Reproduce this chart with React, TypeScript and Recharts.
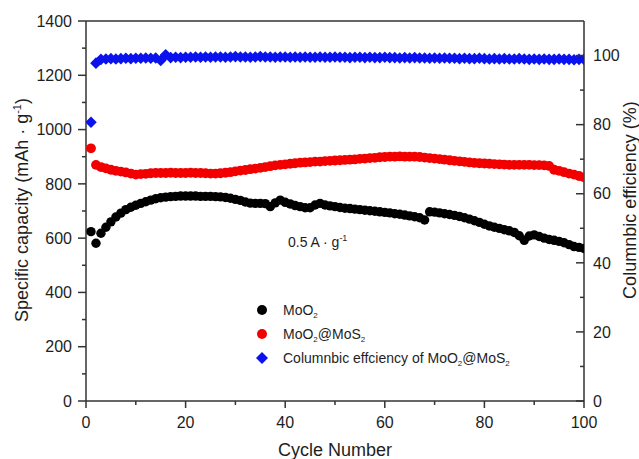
import React from "react";
import { ComposedChart, Line, XAxis, YAxis, ReferenceLine, Legend } from "recharts";

const cycles: number[] = Array.from({ length: 100 }, (_, i) => i + 1);

const moo2: number[] = [
  624, 581, 618, 640, 660, 678, 692, 705, 714, 721,
  728, 734, 740, 745, 749, 751, 753, 754, 755, 755,
  755, 755, 754, 754, 754, 753, 752, 750, 747, 743,
  739, 733, 729, 728, 728, 727, 716, 730, 740, 732,
  726, 720, 716, 712, 712, 722, 728, 722, 719, 716,
  713, 710, 709, 707, 705, 703, 701, 699, 697, 695,
  693, 690, 688, 685, 682, 679, 675, 667, 697, 696,
  693, 690, 687, 684, 680, 675, 670, 664, 658, 651,
  645, 640, 636, 631, 627, 621, 609, 592, 608, 612,
  606, 600, 595, 592, 588, 583, 576, 569, 566, 562,
];

const moo2mos2: number[] = [
  931, 870, 862, 857, 852, 848, 845, 842, 838, 834,
  836, 837, 839, 840, 840, 840, 841, 840, 840, 840,
  841, 840, 840, 839, 838, 838, 839, 841, 843, 846,
  849, 851, 854, 856, 859, 862, 865, 868, 870, 872,
  874, 876, 878, 879, 880, 882, 882, 884, 885, 886,
  887, 888, 889, 890, 892, 893, 895, 896, 898, 899,
  900, 900, 901, 900, 900, 900, 899, 897, 895, 893,
  891, 889, 887, 885, 883, 881, 879, 877, 876, 875,
  874, 873, 872, 871, 870, 870, 870, 870, 870, 869,
  869, 868, 866, 852, 848, 843, 838, 834, 829, 824,
];

const efficiency: number[] = [
  80.7, 97.8, 98.9, 99.0, 99.1, 99.0, 99.1, 99.2, 99.1, 99.2,
  99.2, 99.3, 99.2, 99.3, 98.6, 100.2, 99.4, 99.5, 99.4, 99.5,
  99.5, 99.6, 99.5, 99.6, 99.5, 99.6, 99.6, 99.5, 99.6, 99.7,
  99.6, 99.6, 99.5, 99.6, 99.7, 99.6, 99.6, 99.5, 99.6, 99.6,
  99.5, 99.6, 99.5, 99.6, 99.5, 99.5, 99.6, 99.5, 99.5, 99.6,
  99.5, 99.5, 99.4, 99.5, 99.5, 99.4, 99.5, 99.4, 99.4, 99.5,
  99.4, 99.4, 99.3, 99.4, 99.3, 99.4, 99.3, 99.3, 99.2, 99.3,
  99.2, 99.3, 99.2, 99.2, 99.1, 99.2, 99.1, 99.1, 99.2, 99.1,
  99.0, 99.1, 99.0, 99.1, 99.0, 99.0, 99.1, 99.0, 98.9, 99.0,
  98.9, 99.0, 98.9, 98.9, 99.0, 98.9, 98.9, 98.8, 98.9, 98.9,
];

const xTicks: number[] = [0, 10, 20, 30, 40, 50, 60, 70, 80, 90, 100];
const leftTicks: number[] = [0, 100, 200, 300, 400, 500, 600, 700, 800, 900, 1000, 1100, 1200, 1300, 1400];
const rightTicks: number[] = [0, 10, 20, 30, 40, 50, 60, 70, 80, 90, 100];

const data = cycles.map((c, i) => ({
  cycle: c,
  moo2: moo2[i],
  moo2mos2: moo2mos2[i],
  eff: efficiency[i],
}));

const FONT = "'Liberation Sans', Arial, sans-serif";
const AXIS = "#333";
const TXT = "#1e1e1e";
const BLACK = "#000000";
const RED = "#f20000";
const BLUE = "#0a12ee";

const LeftTick = (props: any) => {
  const { x, y, payload } = props;
  const v = payload.value;
  const major = v % 200 === 0;
  return (
    <g>
      <line x1={x - (major ? 8 : 4)} x2={x} y1={y} y2={y} stroke={AXIS} strokeWidth={1.5} />
      {major && (
        <text x={x - 14} y={y} dy="0.36em" textAnchor="end" fontSize={16} fill={TXT} fontFamily={FONT}>
          {v}
        </text>
      )}
    </g>
  );
};

const RightTick = (props: any) => {
  const { x, y, payload } = props;
  const v = payload.value;
  const major = v % 20 === 0;
  return (
    <g>
      <line x1={x - (major ? 8 : 4)} x2={x} y1={y} y2={y} stroke={AXIS} strokeWidth={1.5} />
      {major && (
        <text x={x + 9} y={y} dy="0.36em" textAnchor="start" fontSize={16} fill={TXT} fontFamily={FONT}>
          {v}
        </text>
      )}
    </g>
  );
};

const BottomTick = (props: any) => {
  const { x, y, payload } = props;
  const v = payload.value;
  const major = v % 20 === 0;
  return (
    <g>
      <line x1={x} x2={x} y1={y} y2={y + (major ? 7 : 4)} stroke={AXIS} strokeWidth={1.5} />
      {major && (
        <text x={x} y={y + 27} textAnchor="middle" fontSize={16} fill={TXT} fontFamily={FONT}>
          {v}
        </text>
      )}
    </g>
  );
};

const Diamond = (props: any) => {
  const { cx, cy, index } = props;
  if (cx == null || cy == null) return <g key={`dn-${index}`} />;
  const s = 5.8;
  return (
    <polygon
      key={`d-${index}`}
      points={`${cx},${cy - s} ${cx + s},${cy} ${cx},${cy + s} ${cx - s},${cy}`}
      fill={BLUE}
      stroke="none"
    />
  );
};

const LegendContent = () => {
  const row = (marker: React.ReactNode, label: React.ReactNode, key: string) => (
    <div key={key} style={{ display: "flex", alignItems: "center", height: 24 }}>
      <svg width={20} height={24} style={{ display: "block" }}>
        {marker}
      </svg>
      <span style={{ marginLeft: 11, fontSize: 14, color: TXT, fontFamily: FONT, whiteSpace: "nowrap" }}>{label}</span>
    </div>
  );
  const sub = (t: string) => (
    <sub style={{ fontSize: 8, verticalAlign: "baseline", position: "relative", top: 3 }}>{t}</sub>
  );
  return (
    <div>
      {row(<circle cx={10} cy={12} r={5} fill={BLACK} />, <>MoO{sub("2")}</>, "a")}
      {row(<circle cx={10} cy={12} r={5} fill={RED} />, <>MoO{sub("2")}@MoS{sub("2")}</>, "b")}
      {row(
        <polygon points="10,6 16,12 10,18 4,12" fill={BLUE} />,
        <>Columnbic effciency of MoO{sub("2")}@MoS{sub("2")}</>,
        "c"
      )}
    </div>
  );
};

export default function App() {
  return (
    <div style={{ position: "absolute", left: 0, top: 0, width: 639, height: 459, background: "#fff" }}>
      <ComposedChart
        width={639}
        height={459}
        data={data}
        margin={{ top: 21, right: 5, bottom: 8, left: 6 }}
        style={{ fontFamily: FONT }}
      >
        <XAxis
          dataKey="cycle"
          type="number"
          domain={[0, 100]}
          ticks={xTicks}
          interval={0}
          height={50}
          tickSize={0}
          tickMargin={0}
          tickLine={false}
          axisLine={{ stroke: AXIS, strokeWidth: 1.5 }}
          tick={<BottomTick />}
          allowDataOverflow
        />
        <YAxis
          yAxisId="left"
          orientation="left"
          domain={[0, 1400]}
          ticks={leftTicks}
          interval={0}
          width={80}
          tickSize={0}
          tickMargin={0}
          tickLine={false}
          axisLine={{ stroke: AXIS, strokeWidth: 1.5 }}
          tick={<LeftTick />}
          allowDataOverflow
        />
        <YAxis
          yAxisId="right"
          orientation="right"
          domain={[0, 110]}
          ticks={rightTicks}
          interval={0}
          width={50}
          tickSize={0}
          tickMargin={0}
          tickLine={false}
          axisLine={{ stroke: AXIS, strokeWidth: 1.5 }}
          tick={<RightTick />}
          allowDataOverflow
        />
        <ReferenceLine yAxisId="left" y={1400} stroke={AXIS} strokeWidth={1.5} />
        <Line
          yAxisId="right"
          dataKey="eff"
          stroke="none"
          isAnimationActive={false}
          dot={<Diamond />}
          activeDot={false}
          legendType="diamond"
        />
        <Line
          yAxisId="left"
          dataKey="moo2mos2"
          stroke="none"
          isAnimationActive={false}
          dot={{ r: 4.9, fill: RED, stroke: "none", strokeWidth: 0 }}
          activeDot={false}
        />
        <Line
          yAxisId="left"
          dataKey="moo2"
          stroke="none"
          isAnimationActive={false}
          dot={{ r: 4.7, fill: BLACK, stroke: "none", strokeWidth: 0 }}
          activeDot={false}
        />
        <Legend
          layout="vertical"
          align="center"
          verticalAlign="middle"
          content={<LegendContent />}
          wrapperStyle={{ left: 252, top: 298, width: 320, height: 72 }}
        />
        <text x={288} y={247} fontSize={14} fill={TXT} fontFamily={FONT}>
          0.5 A · g
          <tspan fontSize={9} dy={-6}>-1</tspan>
        </text>
        <text x={335} y={456} textAnchor="middle" fontSize={18} fill={TXT} fontFamily={FONT}>
          Cycle Number
        </text>
        <text
          x={0}
          y={0}
          transform="translate(28,210) rotate(-90)"
          textAnchor="middle"
          fontSize={18}
          fill={TXT}
          fontFamily={FONT}
        >
          Specific capacity (mAh · g<tspan fontSize={11} dy={-7}>-1</tspan>
          <tspan dy={7}>)</tspan>
        </text>
        <text
          x={0}
          y={0}
          transform="translate(636,200) rotate(-90)"
          textAnchor="middle"
          fontSize={18}
          fill={TXT}
          fontFamily={FONT}
        >
          Columnbic efficiency (%)
        </text>
      </ComposedChart>
    </div>
  );
}
